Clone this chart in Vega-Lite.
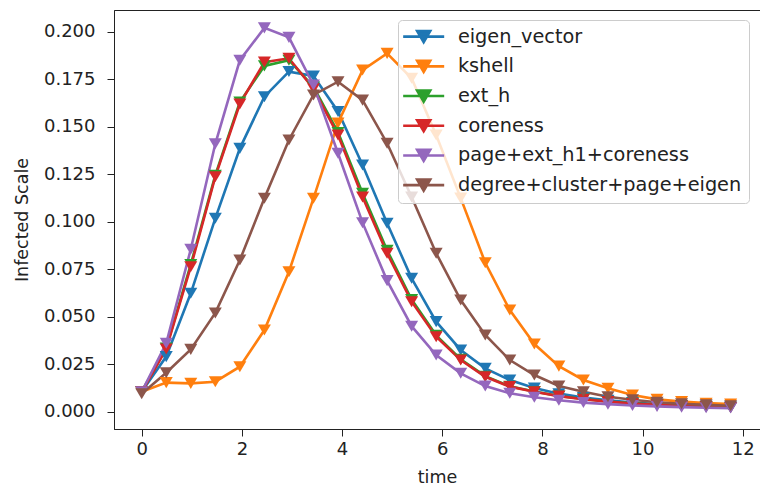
{
  "$schema": "https://vega.github.io/schema/vega-lite/v6.json",
  "autosize": {"type": "none"},
  "padding": {"left": 114, "top": 10, "right": 0, "bottom": 63},
  "width": 646,
  "height": 419,
  "background": "white",
  "config": {
    "font": "DejaVu Sans",
    "view": {"stroke": "#222", "strokeWidth": 1}
  },
  "datasets": {
    "series": [
      {"t":0,"s":"eigen_vector","v":0.0105},{"t":0.49,"s":"eigen_vector","v":0.029},{"t":0.98,"s":"eigen_vector","v":0.0623},{"t":1.47,"s":"eigen_vector","v":0.1018},{"t":1.96,"s":"eigen_vector","v":0.1386},{"t":2.45,"s":"eigen_vector","v":0.1658},{"t":2.94,"s":"eigen_vector","v":0.179},{"t":3.43,"s":"eigen_vector","v":0.1767},{"t":3.92,"s":"eigen_vector","v":0.158},{"t":4.41,"s":"eigen_vector","v":0.1298},{"t":4.9,"s":"eigen_vector","v":0.0992},{"t":5.39,"s":"eigen_vector","v":0.0702},{"t":5.88,"s":"eigen_vector","v":0.0474},{"t":6.37,"s":"eigen_vector","v":0.0325},{"t":6.86,"s":"eigen_vector","v":0.0228},{"t":7.35,"s":"eigen_vector","v":0.0167},{"t":7.84,"s":"eigen_vector","v":0.0125},{"t":8.33,"s":"eigen_vector","v":0.0095},{"t":8.82,"s":"eigen_vector","v":0.0075},{"t":9.31,"s":"eigen_vector","v":0.006},{"t":9.8,"s":"eigen_vector","v":0.0048},{"t":10.29,"s":"eigen_vector","v":0.004},{"t":10.78,"s":"eigen_vector","v":0.0033},{"t":11.27,"s":"eigen_vector","v":0.0028},{"t":11.76,"s":"eigen_vector","v":0.0024},
      {"t":0,"s":"kshell","v":0.0105},{"t":0.49,"s":"kshell","v":0.0153},{"t":0.98,"s":"kshell","v":0.0149},{"t":1.47,"s":"kshell","v":0.0158},{"t":1.96,"s":"kshell","v":0.0237},{"t":2.45,"s":"kshell","v":0.043},{"t":2.94,"s":"kshell","v":0.0737},{"t":3.43,"s":"kshell","v":0.1123},{"t":3.92,"s":"kshell","v":0.152},{"t":4.41,"s":"kshell","v":0.1798},{"t":4.9,"s":"kshell","v":0.1886},{"t":5.39,"s":"kshell","v":0.1755},{"t":5.88,"s":"kshell","v":0.1456},{"t":6.37,"s":"kshell","v":0.1124},{"t":6.86,"s":"kshell","v":0.0784},{"t":7.35,"s":"kshell","v":0.0535},{"t":7.84,"s":"kshell","v":0.0356},{"t":8.33,"s":"kshell","v":0.024},{"t":8.82,"s":"kshell","v":0.0167},{"t":9.31,"s":"kshell","v":0.0123},{"t":9.8,"s":"kshell","v":0.0088},{"t":10.29,"s":"kshell","v":0.0065},{"t":10.78,"s":"kshell","v":0.0053},{"t":11.27,"s":"kshell","v":0.0045},{"t":11.76,"s":"kshell","v":0.004},
      {"t":0,"s":"ext_h","v":0.0105},{"t":0.49,"s":"ext_h","v":0.0335},{"t":0.98,"s":"ext_h","v":0.0775},{"t":1.47,"s":"ext_h","v":0.1245},{"t":1.96,"s":"ext_h","v":0.163},{"t":2.45,"s":"ext_h","v":0.182},{"t":2.94,"s":"ext_h","v":0.185},{"t":3.43,"s":"ext_h","v":0.171},{"t":3.92,"s":"ext_h","v":0.147},{"t":4.41,"s":"ext_h","v":0.115},{"t":4.9,"s":"ext_h","v":0.085},{"t":5.39,"s":"ext_h","v":0.059},{"t":5.88,"s":"ext_h","v":0.0402},{"t":6.37,"s":"ext_h","v":0.0276},{"t":6.86,"s":"ext_h","v":0.0187},{"t":7.35,"s":"ext_h","v":0.0134},{"t":7.84,"s":"ext_h","v":0.0106},{"t":8.33,"s":"ext_h","v":0.0083},{"t":8.82,"s":"ext_h","v":0.0067},{"t":9.31,"s":"ext_h","v":0.0054},{"t":9.8,"s":"ext_h","v":0.0044},{"t":10.29,"s":"ext_h","v":0.0036},{"t":10.78,"s":"ext_h","v":0.003},{"t":11.27,"s":"ext_h","v":0.0026},{"t":11.76,"s":"ext_h","v":0.0022},
      {"t":0,"s":"coreness","v":0.0105},{"t":0.49,"s":"coreness","v":0.033},{"t":0.98,"s":"coreness","v":0.0763},{"t":1.47,"s":"coreness","v":0.1237},{"t":1.96,"s":"coreness","v":0.162},{"t":2.45,"s":"coreness","v":0.184},{"t":2.94,"s":"coreness","v":0.186},{"t":3.43,"s":"coreness","v":0.17},{"t":3.92,"s":"coreness","v":0.1456},{"t":4.41,"s":"coreness","v":0.113},{"t":4.9,"s":"coreness","v":0.0834},{"t":5.39,"s":"coreness","v":0.0579},{"t":5.88,"s":"coreness","v":0.0395},{"t":6.37,"s":"coreness","v":0.0272},{"t":6.86,"s":"coreness","v":0.0184},{"t":7.35,"s":"coreness","v":0.0132},{"t":7.84,"s":"coreness","v":0.0105},{"t":8.33,"s":"coreness","v":0.0082},{"t":8.82,"s":"coreness","v":0.0066},{"t":9.31,"s":"coreness","v":0.0053},{"t":9.8,"s":"coreness","v":0.0043},{"t":10.29,"s":"coreness","v":0.0036},{"t":10.78,"s":"coreness","v":0.003},{"t":11.27,"s":"coreness","v":0.0026},{"t":11.76,"s":"coreness","v":0.0022},
      {"t":0,"s":"page+ext_h1+coreness","v":0.0105},{"t":0.49,"s":"page+ext_h1+coreness","v":0.036},{"t":0.98,"s":"page+ext_h1+coreness","v":0.0855},{"t":1.47,"s":"page+ext_h1+coreness","v":0.141},{"t":1.96,"s":"page+ext_h1+coreness","v":0.185},{"t":2.45,"s":"page+ext_h1+coreness","v":0.202},{"t":2.94,"s":"page+ext_h1+coreness","v":0.197},{"t":3.43,"s":"page+ext_h1+coreness","v":0.172},{"t":3.92,"s":"page+ext_h1+coreness","v":0.136},{"t":4.41,"s":"page+ext_h1+coreness","v":0.0995},{"t":4.9,"s":"page+ext_h1+coreness","v":0.069},{"t":5.39,"s":"page+ext_h1+coreness","v":0.045},{"t":5.88,"s":"page+ext_h1+coreness","v":0.0298},{"t":6.37,"s":"page+ext_h1+coreness","v":0.0202},{"t":6.86,"s":"page+ext_h1+coreness","v":0.0135},{"t":7.35,"s":"page+ext_h1+coreness","v":0.0097},{"t":7.84,"s":"page+ext_h1+coreness","v":0.0076},{"t":8.33,"s":"page+ext_h1+coreness","v":0.006},{"t":8.82,"s":"page+ext_h1+coreness","v":0.0048},{"t":9.31,"s":"page+ext_h1+coreness","v":0.004},{"t":9.8,"s":"page+ext_h1+coreness","v":0.0033},{"t":10.29,"s":"page+ext_h1+coreness","v":0.0028},{"t":10.78,"s":"page+ext_h1+coreness","v":0.0024},{"t":11.27,"s":"page+ext_h1+coreness","v":0.0021},{"t":11.76,"s":"page+ext_h1+coreness","v":0.0019},
      {"t":0,"s":"degree+cluster+page+eigen","v":0.0095},{"t":0.49,"s":"degree+cluster+page+eigen","v":0.0205},{"t":0.98,"s":"degree+cluster+page+eigen","v":0.0328},{"t":1.47,"s":"degree+cluster+page+eigen","v":0.052},{"t":1.96,"s":"degree+cluster+page+eigen","v":0.0798},{"t":2.45,"s":"degree+cluster+page+eigen","v":0.1123},{"t":2.94,"s":"degree+cluster+page+eigen","v":0.143},{"t":3.43,"s":"degree+cluster+page+eigen","v":0.1667},{"t":3.92,"s":"degree+cluster+page+eigen","v":0.1737},{"t":4.41,"s":"degree+cluster+page+eigen","v":0.164},{"t":4.9,"s":"degree+cluster+page+eigen","v":0.1413},{"t":5.39,"s":"degree+cluster+page+eigen","v":0.113},{"t":5.88,"s":"degree+cluster+page+eigen","v":0.0834},{"t":6.37,"s":"degree+cluster+page+eigen","v":0.0588},{"t":6.86,"s":"degree+cluster+page+eigen","v":0.0404},{"t":7.35,"s":"degree+cluster+page+eigen","v":0.0272},{"t":7.84,"s":"degree+cluster+page+eigen","v":0.0193},{"t":8.33,"s":"degree+cluster+page+eigen","v":0.0135},{"t":8.82,"s":"degree+cluster+page+eigen","v":0.0105},{"t":9.31,"s":"degree+cluster+page+eigen","v":0.0079},{"t":9.8,"s":"degree+cluster+page+eigen","v":0.0063},{"t":10.29,"s":"degree+cluster+page+eigen","v":0.005},{"t":10.78,"s":"degree+cluster+page+eigen","v":0.0042},{"t":11.27,"s":"degree+cluster+page+eigen","v":0.0036},{"t":11.76,"s":"degree+cluster+page+eigen","v":0.0031}
    ]
  },
  "data": {"name": "series"},
  "encoding": {
    "x": {
      "field": "t", "type": "quantitative", "title": "time",
      "scale": {"domain": [-0.553, 12.346], "nice": false, "zero": false},
      "axis": {
        "values": [0, 2, 4, 6, 8, 10, 12], "format": "d", "grid": false,
        "tickSize": 7, "tickColor": "#222", "domainColor": "#222",
        "labelFontSize": 18, "labelColor": "#222", "labelPadding": 4, "labelFlush": false,
        "titleFontSize": 17.5, "titleFontWeight": "normal", "titleColor": "#222", "titlePadding": 10
      }
    },
    "y": {
      "field": "v", "type": "quantitative", "title": "Infected Scale",
      "scale": {"domain": [-0.0091, 0.21142], "nice": false, "zero": false},
      "axis": {
        "values": [0, 0.025, 0.05, 0.075, 0.1, 0.125, 0.15, 0.175, 0.2], "format": ".3f", "grid": false,
        "tickSize": 7, "tickColor": "#222", "domainColor": "#222",
        "labelFontSize": 18, "labelColor": "#222", "labelPadding": 12, "labelFlush": false,
        "titleFontSize": 17.5, "titleFontWeight": "normal", "titleColor": "#222", "titlePadding": 12
      }
    },
    "color": {
      "field": "s", "type": "nominal",
      "scale": {
        "domain": ["eigen_vector", "kshell", "ext_h", "coreness", "page+ext_h1+coreness", "degree+cluster+page+eigen"],
        "range": ["#1f77b4", "#ff7f0e", "#2ca02c", "#d62728", "#9467bd", "#8c564b"]
      },
      "legend": {
        "title": null, "orient": "none", "legendX": 284, "legendY": 10,
        "symbolType": "M-1.64,0H4.22M0.36,-0.79L2.22,-0.79L1.29,0.79Z",
        "symbolSize": 196, "symbolStrokeWidth": 2.6,
        "labelFontSize": 19.3, "labelColor": "#222", "labelOffset": 33.6, "labelLimit": 400, "rowPadding": 6.7,
        "padding": 7, "fillColor": "rgba(255,255,255,0.8)", "strokeColor": "#cccccc", "cornerRadius": 4,
        "encode": {
          "symbols": {
            "update": {
              "fill": {"scale": "color", "field": "value"},
              "stroke": {"scale": "color", "field": "value"},
              "opacity": {"value": 1}
            }
          }
        }
      }
    }
  },
  "layer": [
    {"mark": {"type": "line", "strokeWidth": 2.6}},
    {"mark": {"type": "point", "shape": "M-1,-0.85L1,-0.85L0,0.85Z", "filled": true, "size": 169, "opacity": 1}}
  ]
}
